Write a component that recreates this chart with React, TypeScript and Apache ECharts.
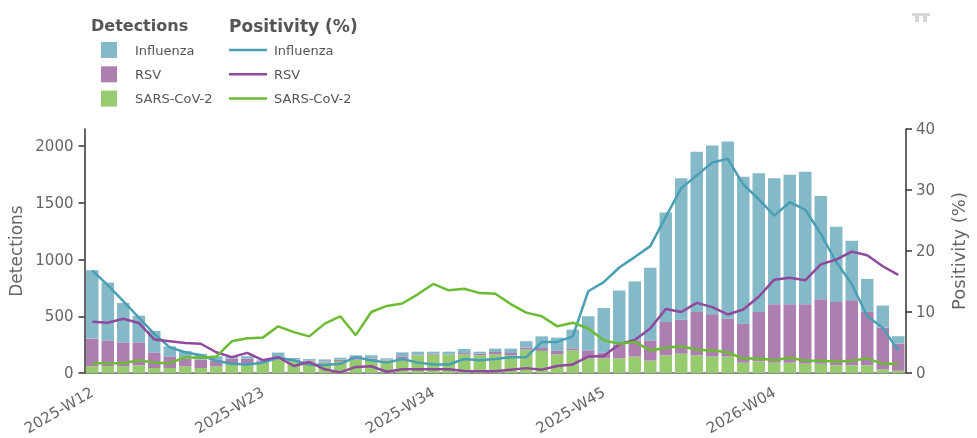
import React, { useEffect, useRef } from "react";
import * as echarts from "echarts";

const weeks2025 = ["W12","W13","W14","W15","W16","W17","W18","W19","W20","W21","W22","W23","W24","W25","W26","W27","W28","W29","W30","W31","W32","W33","W34","W35","W36","W37","W38","W39","W40","W41","W42","W43","W44","W45","W46","W47","W48","W49","W50","W51","W52"];
const weeks2026 = ["W01","W02","W03","W04","W05","W06","W07","W08","W09","W10","W11","W12"];
const categories = [...weeks2025.map((w) => `2025-${w}`), ...weeks2026.map((w) => `2026-${w}`)];

const sarsDetections = [60,60,60,68,44,44,59,44,59,82,82,97,126,105,100,92,106,118,106,112,126,156,162,162,165,156,165,156,206,195,165,200,130,130,130,145,110,156,170,156,147,147,91,103,91,91,82,82,68,68,68,32,20];
const rsvDetections = [243,228,210,202,138,103,66,73,51,44,44,6,14,13,10,10,12,22,20,6,21,4,8,3,11,14,20,20,18,25,30,18,70,50,120,140,178,294,300,382,371,333,344,435,515,515,524,568,558,573,470,368,239];
const fluDetections = [602,509,347,235,188,88,69,53,37,19,22,9,40,14,13,18,17,16,30,12,35,28,18,23,36,18,30,39,56,103,117,164,300,392,477,522,640,965,1245,1412,1487,1560,1295,1222,1109,1141,1167,909,662,524,291,194,65];

const fluPositivity = [16.8,14.4,11.8,9.1,6.4,4.2,3.4,2.9,2.0,1.5,1.4,1.7,2.5,2.1,1.4,1.3,1.5,2.6,2.1,1.7,2.3,1.7,1.4,1.4,2.3,2.1,2.3,2.6,2.6,5.1,5.1,6.0,13.4,14.9,17.3,19.0,20.8,25.6,30.3,32.4,34.5,35.1,30.9,28.5,25.8,28.0,26.8,22.8,18.2,14.6,9.3,7.4,3.7];
const rsvPositivity = [8.4,8.25,8.9,8.2,5.5,5.2,4.9,4.8,3.4,2.6,3.3,2.1,2.6,1.15,1.8,0.6,0.1,1.0,1.1,0.2,0.6,0.6,0.6,0.6,0.33,0.3,0.3,0.55,0.8,0.55,1.15,1.4,2.7,2.8,4.7,5.4,7.3,10.5,10.0,11.5,10.8,9.6,10.4,12.5,15.3,15.6,15.2,17.8,18.6,19.9,19.3,17.5,16.1];
const sarsPositivity = [1.6,1.6,1.6,2.1,1.7,1.6,2.6,2.5,2.7,5.2,5.7,5.8,7.65,6.7,6.0,8.1,9.3,6.2,10.0,11.0,11.4,12.9,14.6,13.55,13.8,13.1,13.0,11.3,9.9,9.3,7.65,8.25,7.3,5.35,4.8,5.1,3.7,4.15,4.4,3.8,3.7,3.4,2.35,2.4,2.1,2.5,2.0,2.0,1.9,2.0,2.4,1.5,1.5];

const leftTicks = [0, 500, 1000, 1500, 2000];
const FONT = '"DejaVu Sans", Verdana, sans-serif';
const GREY = "#666666";
const barColors = { flu: "#84b9c8", rsv: "#ad7eb0", sars: "#98cb6f" };
const lineColors = { flu: "#4a9fb5", rsv: "#8f4a9e", sars: "#6bbb33" };
const lineNames = { flu: "Influenza positivity", rsv: "RSV positivity", sars: "SARS-CoV-2 positivity" };

export default function App() {
  const ref = useRef<HTMLDivElement>(null);
  useEffect(() => {
    const chart = echarts.init(ref.current!, undefined, { renderer: "svg" });
    const bar = (name: string, data: number[], color: string) => ({
      name, type: "bar", stack: "det", data, barWidth: 12.5, itemStyle: { color },
    });
    const line = (name: string, data: number[], color: string) => ({
      name, type: "line", yAxisIndex: 1, data, symbol: "none", z: 5,
      lineStyle: { color, width: 2.5 }, itemStyle: { color },
    });
    const legendText = (gap: number) => ({
      fontFamily: FONT, fontSize: 13, color: "#555555", lineHeight: 16, padding: [0, 0, 0, gap],
    });
    chart.setOption({
      animation: false,
      textStyle: { fontFamily: FONT },
      grid: { left: 84.5, width: 821.5, top: 129, height: 244, containLabel: false, outerBoundsMode: "none" },
      legend: [
        {
          orient: "vertical", selectedMode: false, padding: 0, left: 101, top: 42,
          itemWidth: 16, itemHeight: 16, itemGap: 8.3, icon: "rect", align: "left",
          textStyle: legendText(13),
          data: ["Influenza", "RSV", "SARS-CoV-2"],
        },
        {
          orient: "vertical", selectedMode: false, padding: 0, left: 229, top: 42,
          itemWidth: 38, itemHeight: 2.5, itemGap: 8.3, icon: "rect", align: "left",
          textStyle: legendText(2),
          data: [lineNames.flu, lineNames.rsv, lineNames.sars],
          formatter: (n: string) => n.replace(" positivity", ""),
        },
      ],
      xAxis: {
        type: "category", data: categories, boundaryGap: true,
        axisLine: { lineStyle: { color: GREY, width: 1.5 } },
        axisTick: { alignWithLabel: true, interval: 10, length: 6, lineStyle: { color: GREY, width: 1.5 } },
        axisLabel: { interval: 10, rotate: 30, fontSize: 15, color: GREY, fontFamily: FONT, margin: 18 },
      },
      yAxis: [
        {
          type: "value", min: 0, max: 2150, position: "left", name: "Detections", nameLocation: "middle",
          nameGap: 56, nameRotate: 90, nameTextStyle: { fontSize: 17, color: GREY, fontFamily: FONT },
          splitLine: { show: false },
          axisLine: { show: true, lineStyle: { color: "#333333", width: 1.5 } },
          axisTick: { show: true, length: 6, customValues: leftTicks, lineStyle: { color: "#333333", width: 1.5 } },
          axisLabel: { fontSize: 15, color: GREY, fontFamily: FONT, margin: 11, customValues: leftTicks, formatter: (v: number) => String(v) },
        },
        {
          type: "value", min: 0, max: 40, interval: 10, position: "right", name: "Positivity (%)", nameLocation: "middle",
          nameGap: 43, nameRotate: 90, nameTextStyle: { fontSize: 18, color: GREY, fontFamily: FONT },
          splitLine: { show: false },
          axisLine: { show: true, lineStyle: { color: "#333333", width: 1.5 } },
          axisTick: { show: true, length: 6, lineStyle: { color: "#333333", width: 1.5 } },
          axisLabel: { fontSize: 15, color: GREY, fontFamily: FONT, margin: 10 },
        },
      ],
      graphic: [
        { type: "text", left: 91, top: 17, style: { text: "Detections", fontFamily: FONT, fontSize: 16, fontWeight: "bold", fill: "#555555" } },
        { type: "text", left: 229, top: 17, style: { text: "Positivity (%)", fontFamily: FONT, fontSize: 17, fontWeight: "bold", fill: "#555555" } },
        { type: "rect", shape: { x: 912, y: 13, width: 18, height: 3 }, style: { fill: "#d6d6d6" } },
        { type: "rect", shape: { x: 915, y: 16, width: 4, height: 6 }, style: { fill: "#d6d6d6" } },
        { type: "rect", shape: { x: 923, y: 16, width: 4, height: 6 }, style: { fill: "#d6d6d6" } },
      ],
      series: [
        bar("SARS-CoV-2", sarsDetections, barColors.sars),
        bar("RSV", rsvDetections, barColors.rsv),
        bar("Influenza", fluDetections, barColors.flu),
        line(lineNames.flu, fluPositivity, lineColors.flu),
        line(lineNames.rsv, rsvPositivity, lineColors.rsv),
        line(lineNames.sars, sarsPositivity, lineColors.sars),
      ],
    });
    return () => chart.dispose();
  }, []);
  return <div ref={ref} style={{ position: "fixed", left: 0, top: 0, width: 977, height: 438 }} />;
}
